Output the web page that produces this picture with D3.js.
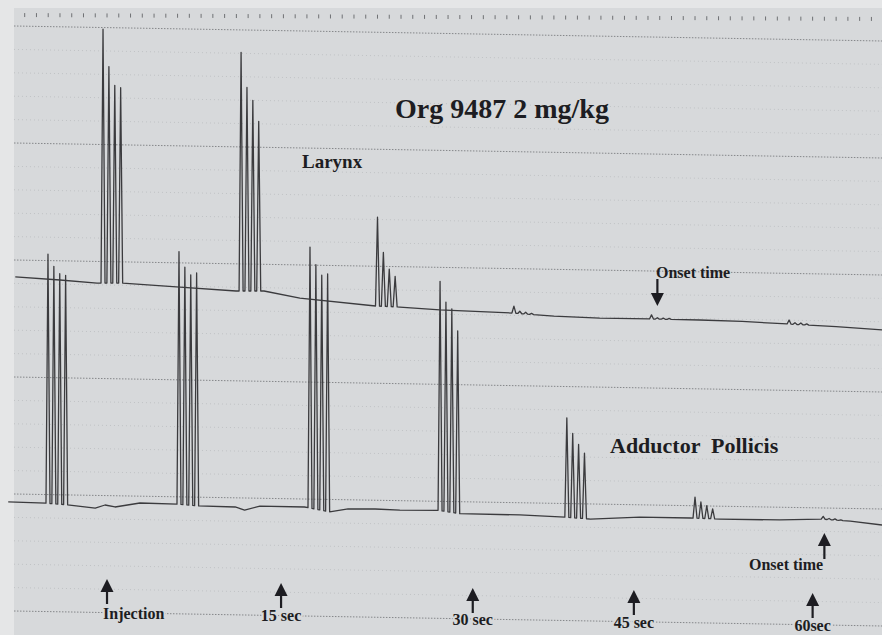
<!DOCTYPE html>
<html>
<head>
<meta charset="utf-8">
<script src="https://cdn.jsdelivr.net/npm/d3@7"></script>
<style>
  html, body { margin: 0; padding: 0; background: #e5e6e7; }
  svg { display: block; }
  .lbl { font-family: "Liberation Serif", "Times New Roman", serif; font-weight: bold; fill: #1d1d22; }
  .halo { paint-order: stroke; stroke: #d7d9db; stroke-width: 4px; stroke-linejoin: round; }
</style>
</head>
<body>
<div id="chart"></div>
<script>
// time in seconds from injection, pen deflection in chart units (10 units per major grid line)
const larynxBase = [[-7.8, 28.55], [-4.0, 28.29], [-0.85, 28.03], [1.45, 28.03], [6.2, 27.69], [10.97, 27.35],
  [13.35, 27.35], [16.4, 26.75], [22.8, 26.07], [24.9, 25.98], [28.3, 25.73], [34.4, 25.47], [38.0, 25.2],
  [41.9, 25.04], [46.2, 24.96], [50.4, 24.87], [54.0, 24.75], [57.9, 24.53], [62.0, 24.3], [65.9, 24.02]];
const larynxTrainTimes = [-0.34, 11.4, 23.0, 34.6, 46.3, 58.0];
const larynxTwitches = [
  [21.7, 18.5, 16.9, 16.7],
  [20.4, 17.4, 16.3, 14.5],
  [7.6, 4.6, 3.2, 2.6],
  [0.6, 0.2, 0.15, 0.1],
  [0.35, 0.12, 0.1, 0.08],
  [0.35, 0.15, 0.15, 0.1]
];

const adductorBase = [[-8.4, 9.32], [-5.4, 9.23], [-3.15, 9.06], [-1.0, 8.8], [-0.17, 9.06], [0.68, 8.89],
  [2.8, 9.23], [5.78, 9.15], [7.9, 8.97], [10.9, 8.89], [11.7, 8.63], [13.0, 8.97], [16.8, 8.89], [19.0, 8.46],
  [20.5, 8.72], [22.8, 8.72], [24.9, 8.63], [28.0, 8.63], [30.2, 8.29], [35.1, 8.21], [38.8, 8.03], [41.1, 7.86],
  [45.3, 8.03], [49.6, 7.95], [52.1, 7.86], [57.2, 7.78], [60.6, 7.86], [63.2, 7.69], [65.9, 7.35]];
const adductorTrainTimes = [-5.02, 6.12, 17.26, 28.32, 39.1, 50.0, 60.9];
const adductorTwitches = [
  [21.3, 20.3, 19.7, 19.6],
  [21.6, 20.3, 19.7, 19.9],
  [22.3, 20.9, 20.1, 20.3],
  [19.6, 17.9, 17.4, 15.6],
  [8.5, 7.2, 6.3, 5.6],
  [1.8, 1.4, 1.1, 0.85],
  [0.25, 0.1, 0.1, 0.05]
];

const markerLabels = ["Injection", "15 sec", "30 sec", "45 sec", "60sec"];
const markerTimes = [0, 14.8, 31.1, 44.8, 60.0];
const onsetTimes = { larynx: 46.8, adductor: 61.0 };
const gridValues = [0, 10, 20, 30, 40, 50];
const minorGridValues = d3.range(2, 50, 2).filter(v => v % 10 !== 0);

const W = 882, H = 635;
const svg = d3.select("#chart").append("svg").attr("width", W).attr("height", H);

const x = d3.scaleLinear().domain([-9.1, 65.9]).range([0, W]);
const y = d3.scaleLinear().domain([0, 50]).range([611, 26]);
const tilt = 15; // paper is scanned slightly skewed

// paper
svg.append("rect").attr("x", 14).attr("y", 8).attr("width", W - 14).attr("height", H - 8).attr("fill", "#d7d9db");

// grid
svg.append("g").selectAll("line").data(minorGridValues).join("line")
  .attr("x1", 14).attr("x2", W)
  .attr("y1", d => y(d)).attr("y2", d => y(d) + tilt)
  .attr("stroke", "#babcbf").attr("stroke-width", 0.8).attr("stroke-dasharray", "1 3");
svg.append("g").selectAll("line").data(gridValues).join("line")
  .attr("x1", 14).attr("x2", W)
  .attr("y1", d => y(d)).attr("y2", d => y(d) + tilt)
  .attr("stroke", "#85878a").attr("stroke-width", 1).attr("stroke-dasharray", "1.5 1.5");

// one-second timer marks along the top
svg.append("g").selectAll("line").data(d3.range(-7, 66, 1)).join("line")
  .attr("x1", d => x(d)).attr("x2", d => x(d))
  .attr("y1", d => 13 + (x(d) - 14) / (W - 14) * 4).attr("y2", d => 17 + (x(d) - 14) / (W - 14) * 4)
  .attr("stroke", "#6f7174").attr("stroke-width", 1);

// traces
const halfWidth = 0.17;
function tracePoints(base, times, twitches) {
  const baseAt = d3.scaleLinear().domain(base.map(d => d[0])).range(base.map(d => d[1]));
  const pts = base.filter(d => !times.some(t => d[0] > t - 0.4 && d[0] < t + 1.9));
  times.forEach((t0, k) => {
    twitches[k].forEach((h, i) => {
      const t = t0 + i * 0.5;
      pts.push([t - halfWidth, baseAt(t - halfWidth)]);
      pts.push([t, baseAt(t) + h]);
      pts.push([t + halfWidth, baseAt(t + halfWidth)]);
    });
  });
  return pts.sort((a, b) => a[0] - b[0]);
}

const line = d3.line().x(d => x(d[0])).y(d => y(d[1]));

svg.append("path").datum(tracePoints(larynxBase, larynxTrainTimes, larynxTwitches))
  .attr("d", line).attr("fill", "none").attr("stroke", "#3b3b3e").attr("stroke-width", 1.3)
  .attr("stroke-linejoin", "round");
svg.append("path").datum(tracePoints(adductorBase, adductorTrainTimes, adductorTwitches))
  .attr("d", line).attr("fill", "none").attr("stroke", "#3b3b3e").attr("stroke-width", 1.3)
  .attr("stroke-linejoin", "round");

// arrows
function arrow(cx, tipY, len, dir) {
  // dir = -1 points up, +1 points down
  const g = svg.append("g").attr("fill", "#1d1d22").attr("stroke", "#1d1d22");
  const tail = tipY - dir * len;
  const headBase = tipY - dir * 13;
  g.append("line").attr("x1", cx).attr("x2", cx).attr("y1", tail).attr("y2", headBase).attr("stroke-width", 2.2);
  g.append("path").attr("stroke", "none")
    .attr("d", `M${cx},${tipY} L${cx - 6.5},${headBase} L${cx + 6.5},${headBase} Z`);
}

const arrowTips = [579, 583, 588, 590, 593];
const labelBase = [619, 621, 625, 628, 631];
markerTimes.forEach((t, i) => {
  arrow(x(t), arrowTips[i], 25, -1);
  svg.append("text").attr("class", "lbl halo")
    .attr("x", x(t) - 4).attr("y", labelBase[i])
    .attr("text-anchor", i === 0 ? "start" : "middle")
    .attr("dx", i === 0 ? 0 : 4)
    .style("font-size", "16px").text(markerLabels[i]);
});

// onset arrows
arrow(x(onsetTimes.larynx), 306, 27, 1);
arrow(x(onsetTimes.adductor), 533, 26, -1);

svg.append("text").attr("class", "lbl").attr("x", 656).attr("y", 278).style("font-size", "16px").text("Onset time");
svg.append("text").attr("class", "lbl").attr("x", 749).attr("y", 570).style("font-size", "16px").text("Onset time");

// titles
svg.append("text").attr("class", "lbl").attr("x", 395).attr("y", 118).style("font-size", "28px").text("Org 9487 2 mg/kg");
svg.append("text").attr("class", "lbl").attr("x", 302).attr("y", 168).style("font-size", "19px").text("Larynx");
svg.append("text").attr("class", "lbl").attr("x", 610).attr("y", 453).style("font-size", "22px")
  .style("white-space", "pre").text("Adductor  Pollicis");
</script>
</body>
</html>
